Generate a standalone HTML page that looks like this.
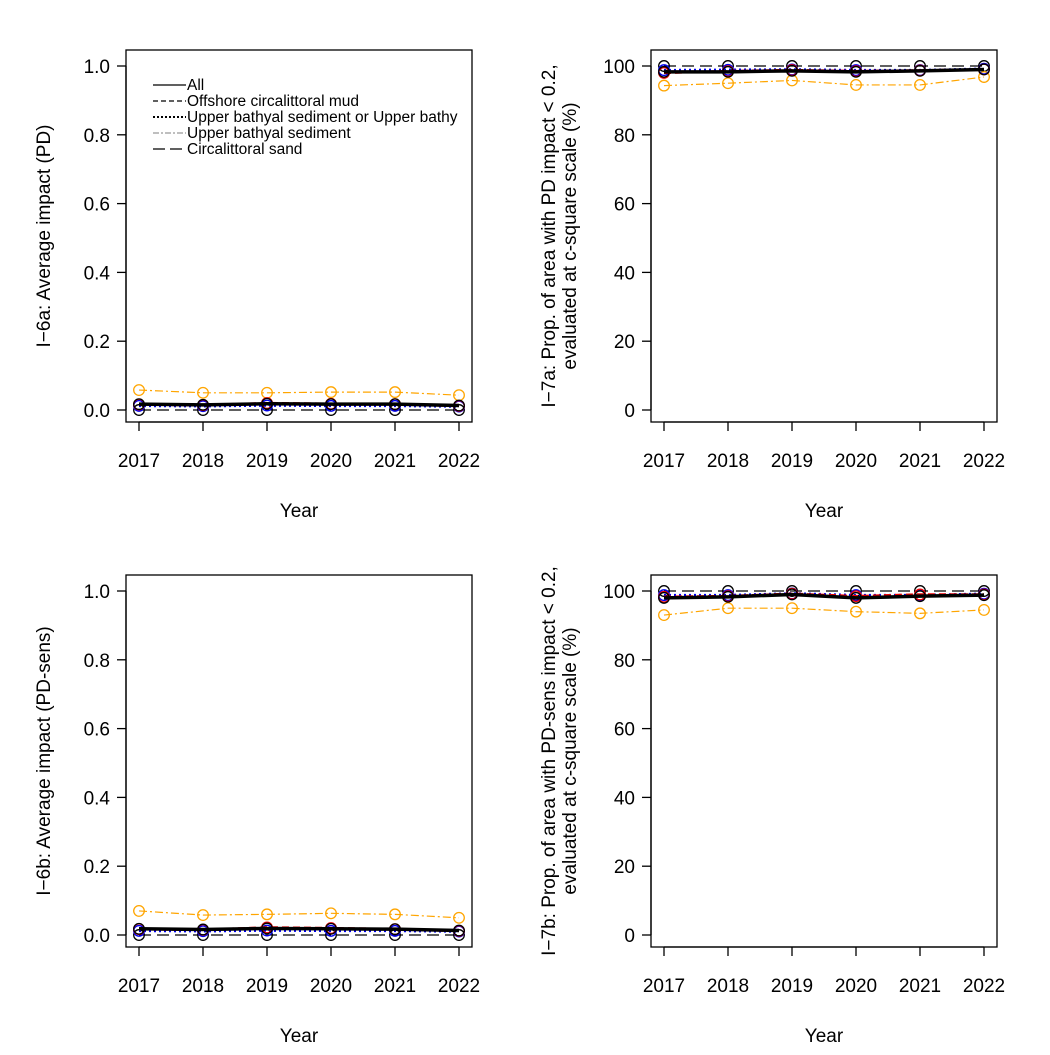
<!DOCTYPE html>
<html><head><meta charset="utf-8"><style>
body{margin:0;background:#fff;font-family:"Liberation Sans",Arial,sans-serif}
</style></head><body>
<svg id="c" width="1050" height="1050" xmlns="http://www.w3.org/2000/svg" font-family="Liberation Sans, Arial, sans-serif"></svg>
<script>
const years=[2017,2018,2019,2020,2021,2022];
const a6_all=[0.017,0.015,0.018,0.017,0.017,0.013];
const a6_mud=[0.016,0.014,0.02,0.018,0.017,0.012];
const a6_bath2=[0.012,0.011,0.013,0.012,0.012,0.01];
const a6_bath=[0.058,0.05,0.05,0.052,0.052,0.043];
const a6_sand=[0.0,0.0,0.0,0.0,0.0,0.0];
const a7_all=[98.3,98.3,98.6,98.3,98.6,99.0];
const a7_mud=[98.0,98.5,98.8,98.5,98.7,99.0];
const a7_bath2=[98.8,98.9,99.0,98.8,98.8,99.2];
const a7_bath=[94.3,95.0,95.8,94.5,94.5,96.8];
const a7_sand=[100,100,100,100,100,100];
const b6_all=[0.018,0.016,0.019,0.018,0.017,0.013];
const b6_mud=[0.017,0.015,0.022,0.02,0.017,0.012];
const b6_bath2=[0.012,0.011,0.013,0.012,0.012,0.01];
const b6_bath=[0.07,0.058,0.06,0.063,0.06,0.05];
const b6_sand=[0.0,0.0,0.0,0.0,0.0,0.0];
const b7_all=[98.0,98.3,99.0,98.0,98.5,98.8];
const b7_mud=[98.3,98.5,99.2,98.5,99.0,99.0];
const b7_bath2=[98.8,98.8,99.3,98.8,98.8,99.2];
const b7_bath=[93.0,95.0,95.0,94.0,93.5,94.5];
const b7_sand=[100,100,100,100,100,100];
const ticks01=[0,0.2,0.4,0.6,0.8,1.0];
const tickLab01=["0.0","0.2","0.4","0.6","0.8","1.0"];
const ticks100=[0,20,40,60,80,100];
const legendLabels=["All","Offshore circalittoral mud","Upper bathyal sediment or Upper bathy","Upper bathyal sediment","Circalittoral sand"];

const svg=document.getElementById('c');
const NS="http://www.w3.org/2000/svg";
function mk(tag,attrs,parent){const e=document.createElementNS(NS,tag);for(const k in attrs)e.setAttribute(k,attrs[k]);(parent||svg).appendChild(e);return e;}

const styles=[
 {stroke:"#000",w:3.5,dash:"",pt:"#000"},
 {stroke:"#e00",w:2.5,dash:"7,4",pt:"#e00"},
 {stroke:"#00e",w:2.5,dash:"2,3",pt:"#00e"},
 {stroke:"orange",w:1.2,dash:"8,3,2,3",pt:"orange"},
 {stroke:"#000",w:1.2,dash:"12,6",pt:"#000"}
];

function panel(px,py,key,series,yt,ticks,labs,ylo,yhi){
  const x0=px,x1=px+346,y0=py,y1=py+372;
  const g=mk('g',{});
  
  
  const X=v=>px+13+(v-2017)*64;
  const Y=v=>(py+16)+(yhi-v)/(yhi-ylo)*344;
  const box=mk('rect',{x:x0,y:y0,width:346,height:372,fill:'none',stroke:'#000','stroke-width':1.3},g);
  
  ticks.forEach((t,i)=>{
    mk('line',{x1:x0,x2:x0-9,y1:Y(t),y2:Y(t),stroke:'#000','stroke-width':1.3},g);
    const tx=mk('text',{x:x0-16,y:Y(t)+7,'text-anchor':'end','font-size':19},g);tx.textContent=labs[i];
    
  });
  mk('line',{x1:x0,x2:x0,y1:Y(ticks[0]),y2:Y(ticks[ticks.length-1]),stroke:'#000','stroke-width':1.3},g);
  mk('line',{x1:X(2017),x2:X(2022),y1:y1,y2:y1+9,stroke:'none'},g);
  mk('line',{x1:X(2017),x2:X(2022),y1:y1,y2:y1,stroke:'#000','stroke-width':1.3},g);
  years.forEach(yv=>{
    mk('line',{x1:X(yv),x2:X(yv),y1:y1,y2:y1+9,stroke:'#000','stroke-width':1.3},g);
    const tx=mk('text',{x:X(yv),y:y1+45,'text-anchor':'middle','font-size':19},g);tx.textContent=yv;
    
  });
  const xt=mk('text',{x:(x0+x1)/2,y:y1+95,'text-anchor':'middle','font-size':19},g);xt.textContent='Year';
  
  yt.forEach((line,i)=>{
    const xx=x0-(yt.length>1?96-21*i:76);
    const t=mk('text',{x:xx,y:(y0+y1)/2,'text-anchor':'middle','font-size':19,transform:`rotate(-90 ${xx} ${(y0+y1)/2})`},g);t.textContent=line;
    
  });
  [4,3,2,1,0].forEach(si=>{
    const s=styles[si],d=series[si];
    const pl=mk('polyline',{points:d.map((v,i)=>X(years[i])+','+Y(v)).join(' '),fill:'none',stroke:s.stroke,'stroke-width':s.w,'stroke-dasharray':s.dash},g);
    
    d.forEach((v,i)=>{
      const c=mk('circle',{cx:X(years[i]),cy:Y(v),r:5.3,fill:'none',stroke:s.pt,'stroke-width':1.3},g);
      
    });
  });
}
panel(126,50,'i6a',[a6_all,a6_mud,a6_bath2,a6_bath,a6_sand],['I\u22126a: Average impact (PD)'],ticks01,tickLab01,0,1);
panel(651,50,'i7a',[a7_all,a7_mud,a7_bath2,a7_bath,a7_sand],['I\u22127a: Prop. of area with PD impact < 0.2,','evaluated at c-square scale (%)'],ticks100,ticks100.map(String),0,100);
panel(126,575,'i6b',[b6_all,b6_mud,b6_bath2,b6_bath,b6_sand],['I\u22126b: Average impact (PD-sens)'],ticks01,tickLab01,0,1);
panel(651,575,'i7b',[b7_all,b7_mud,b7_bath2,b7_bath,b7_sand],['I\u22127b: Prop. of area with PD-sens impact < 0.2,','evaluated at c-square scale (%)'],ticks100,ticks100.map(String),0,100);

const lg=mk('g',{});

const lstyles=[{w:1.3,d:""},{w:1.2,d:"5,3"},{w:2,d:"2,2"},{w:1.2,d:"6,2,2,2"},{w:1.3,d:"12,5"}];
legendLabels.forEach((l,i)=>{
  const y=85+i*16;
  mk('line',{x1:153,x2:186,y1:y,y2:y,stroke:i==3?'#999':'#000','stroke-width':lstyles[i].w,'stroke-dasharray':lstyles[i].d},lg);
  const t=mk('text',{x:187,y:y+5,'font-size':15.5},lg);t.textContent=l;
  
});
</script>
</body></html>
